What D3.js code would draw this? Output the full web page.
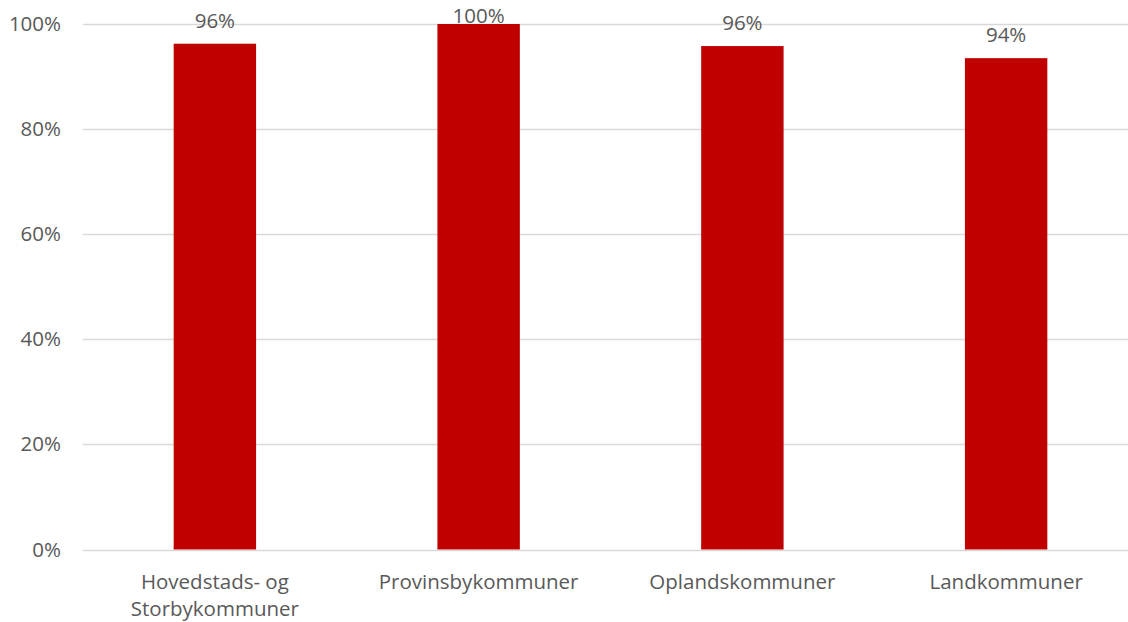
<!DOCTYPE html>
<html>
<head>
<meta charset="utf-8">
<script src="https://cdn.jsdelivr.net/npm/d3@7"></script>
<style>
  html, body { margin: 0; padding: 0; background: #fff; }
  svg { display: block; }
  text { font-family: "Open Sans", "Noto Sans", sans-serif; fill: #595959; }
</style>
</head>
<body>
<svg id="chart" width="1128" height="622"></svg>
<script>
// Share of municipalities by municipality group
const categories = [
  ["Hovedstads- og", "Storbykommuner"],
  ["Provinsbykommuner"],
  ["Oplandskommuner"],
  ["Landkommuner"]
];
const values = [0.9625, 1.0, 0.958, 0.935];
const valueLabels = ["96%", "100%", "96%", "94%"];
const yTicks = [0, 0.2, 0.4, 0.6, 0.8, 1.0];

const svg = d3.select("#chart");
const margin = { left: 83, right: -10, top: 24, bottom: 72.5 };
const W = 1128, H = 622;
const fontSize = "20.5px";

const keys = categories.map(c => c.join(" "));
const x = d3.scaleBand()
  .domain(keys)
  .range([margin.left, W - margin.right])
  .paddingInner(0.6875)
  .paddingOuter(0.34375);

const y = d3.scaleLinear()
  .domain([0, 1])
  .range([H - margin.bottom, margin.top]);

// gridlines
svg.append("g")
  .selectAll("line")
  .data(yTicks)
  .join("line")
  .attr("x1", margin.left)
  .attr("x2", W)
  .attr("y1", d => Math.round(y(d)) + 0.5)
  .attr("y2", d => Math.round(y(d)) + 0.5)
  .attr("stroke", "#d9d9d9")
  .attr("stroke-width", 1.3);

// y axis labels
const yAxis = d3.axisLeft(y)
  .tickValues(yTicks)
  .tickFormat(d3.format(".0%"))
  .tickSize(0)
  .tickPadding(22);
const yg = svg.append("g")
  .attr("transform", `translate(${margin.left},0)`)
  .call(yAxis);
yg.select(".domain").remove();
yg.selectAll("text")
  .style("font-size", fontSize)
  .attr("fill", "#595959");

// bars
svg.append("g")
  .selectAll("rect")
  .data(values)
  .join("rect")
  .attr("x", (d, i) => x(keys[i]))
  .attr("width", x.bandwidth())
  .attr("y", d => y(d))
  .attr("height", d => y(0) - y(d))
  .attr("fill", "#c00000");

// value labels
svg.append("g")
  .selectAll("text")
  .data(values)
  .join("text")
  .attr("x", (d, i) => x(keys[i]) + x.bandwidth() / 2)
  .attr("y", d => Math.max(y(d) - 23, 15.5))
  .attr("dy", "0.35em")
  .attr("text-anchor", "middle")
  .style("font-size", fontSize)
  .text((d, i) => valueLabels[i]);

// category labels
const xg = svg.append("g");
categories.forEach((lines, i) => {
  const t = xg.append("text")
    .attr("x", x(keys[i]) + x.bandwidth() / 2)
    .attr("y", 582)
    .attr("text-anchor", "middle")
    .style("font-size", fontSize);
  lines.forEach((ln, j) => {
    t.append("tspan")
      .attr("x", x(keys[i]) + x.bandwidth() / 2)
      .attr("y", 581.5 + j * 27.5)
      .attr("dy", "0.35em")
      .text(ln);
  });
});
</script>
</body>
</html>
